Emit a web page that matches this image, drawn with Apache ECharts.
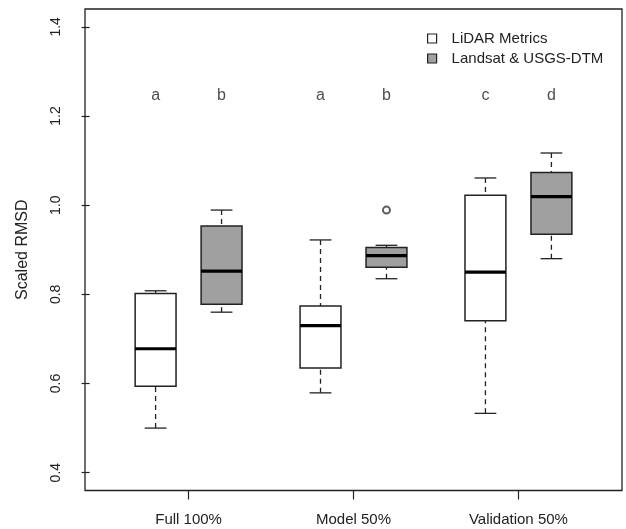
<!DOCTYPE html>
<html>
<head>
<meta charset="utf-8">
<script src="https://cdn.jsdelivr.net/npm/echarts@6/dist/echarts.min.js"></script>
<style>html,body{margin:0;padding:0;background:#fff;}#chart{width:626px;height:529px;}</style>
</head>
<body>
<div id="chart"></div>
<script>
// ---- data ----
const categories = ['Full 100%', 'Model 50%', 'Validation 50%'];
const groupCenters = [1.5, 4, 6.5];
const lidarPositions = [1, 3.5, 6];
const landsatPositions = [2, 4.5, 7];
// [lower whisker, Q1, median, Q3, upper whisker]
const lidarStats = [
  [0.500, 0.594, 0.678, 0.802, 0.808],
  [0.579, 0.635, 0.730, 0.774, 0.922],
  [0.533, 0.741, 0.850, 1.022, 1.061]
];
const landsatStats = [
  [0.760, 0.778, 0.852, 0.953, 0.989],
  [0.835, 0.861, 0.887, 0.905, 0.910],
  [0.880, 0.935, 1.019, 1.073, 1.117]
];
const landsatOutliers = [[1, 0.989]]; // [group index, value]
const lidarLetters = ['a', 'a', 'c'];
const landsatLetters = ['b', 'b', 'd'];
const letterLevel = 1.25;
const yTicks = [0.4, 0.6, 0.8, 1.0, 1.2, 1.4];
const seriesNames = ['LiDAR Metrics', 'Landsat & USGS-DTM'];

// ---- chart ----
const chart = echarts.init(document.getElementById('chart'));
const FONT = 'Liberation Sans, Arial, sans-serif';
const boxHalf = 0.31, capHalf = 0.165;

function renderBox(fill) {
  return function (params, api) {
    const x = api.value(0), lo = api.value(1), q1 = api.value(2), md = api.value(3), q3 = api.value(4), hi = api.value(5);
    const tl = api.coord([x - boxHalf, q3]);
    const br = api.coord([x + boxHalf, q1]);
    const mL = api.coord([x - boxHalf, md]);
    const mR = api.coord([x + boxHalf, md]);
    const cHi = api.coord([x, hi]), cLo = api.coord([x, lo]);
    const cQ3 = api.coord([x, q3]), cQ1 = api.coord([x, q1]);
    const capL = api.coord([x - capHalf, hi])[0], capR = api.coord([x + capHalf, hi])[0];
    const dash = { stroke: '#222', lineWidth: 1.3, lineDash: [5, 4] };
    const solid = { stroke: '#222', lineWidth: 1.3 };
    return {
      type: 'group',
      children: [
        { type: 'line', shape: { x1: cHi[0], y1: cHi[1], x2: cQ3[0], y2: cQ3[1] }, style: dash },
        { type: 'line', shape: { x1: cLo[0], y1: cLo[1], x2: cQ1[0], y2: cQ1[1] }, style: dash },
        { type: 'line', shape: { x1: capL, y1: cHi[1], x2: capR, y2: cHi[1] }, style: solid },
        { type: 'line', shape: { x1: capL, y1: cLo[1], x2: capR, y2: cLo[1] }, style: solid },
        { type: 'rect', shape: { x: tl[0], y: tl[1], width: br[0] - tl[0], height: br[1] - tl[1] },
          style: { fill: fill, stroke: '#222', lineWidth: 1.5 } },
        { type: 'line', shape: { x1: mL[0], y1: mL[1], x2: mR[0], y2: mR[1] }, style: { stroke: '#000', lineWidth: 3.2 } }
      ]
    };
  };
}

const lidarData = lidarStats.map((s, i) => [lidarPositions[i]].concat(s));
const landsatData = landsatStats.map((s, i) => [landsatPositions[i]].concat(s));
const letterData = [];
lidarLetters.forEach((l, i) => letterData.push({ value: [lidarPositions[i], letterLevel], letter: l }));
landsatLetters.forEach((l, i) => letterData.push({ value: [landsatPositions[i], letterLevel], letter: l }));

const option = {
  backgroundColor: '#fff',
  animation: false,
  textStyle: { fontFamily: FONT },
  grid: { left: 85, right: 4, top: 9, bottom: 38.5, show: true, borderColor: '#222', borderWidth: 1.3, backgroundColor: 'transparent' },
  legend: {
    orient: 'vertical', left: 427, top: 31, padding: 0, itemWidth: 9, itemHeight: 9, itemGap: 5,
    textStyle: { fontFamily: FONT, fontSize: 15, color: '#222', padding: [0, 0, 0, 10] },
    data: [
      { name: seriesNames[0], icon: 'rect', itemStyle: { color: '#fff', borderColor: '#222', borderWidth: 1.2 } },
      { name: seriesNames[1], icon: 'rect', itemStyle: { color: '#a0a0a0', borderColor: '#222', borderWidth: 1.2 } }
    ]
  },
  xAxis: {
    type: 'value', min: -0.07, max: 8.07,
    axisLine: { show: false }, splitLine: { show: false },
    axisTick: { show: true, customValues: groupCenters, length: 9, lineStyle: { color: '#222', width: 1.2 } },
    axisLabel: { customValues: groupCenters, margin: 22, fontSize: 15, color: '#222', fontFamily: FONT,
      formatter: v => categories[groupCenters.indexOf(v)] }
  },
  yAxis: {
    type: 'value', min: 0.36, max: 1.44,
    name: 'Scaled RMSD', nameLocation: 'middle', nameGap: 54, nameRotate: 90,
    nameTextStyle: { fontSize: 16, color: '#222', fontFamily: FONT },
    axisLine: { show: false }, splitLine: { show: false },
    axisTick: { show: true, customValues: yTicks, length: 8, lineStyle: { color: '#222', width: 1.2 } },
    axisLabel: { customValues: yTicks, rotate: 90, margin: 22, fontSize: 14, color: '#222', fontFamily: FONT,
      formatter: v => v.toFixed(1) }
  },
  series: [
    { name: seriesNames[0], type: 'custom', renderItem: renderBox('#fff'), data: lidarData,
      itemStyle: { color: '#fff', borderColor: '#222' }, encode: { x: 0, y: [1, 2, 3, 4, 5] } },
    { name: seriesNames[1], type: 'custom', renderItem: renderBox('#a0a0a0'), data: landsatData,
      itemStyle: { color: '#a0a0a0', borderColor: '#222' }, encode: { x: 0, y: [1, 2, 3, 4, 5] } },
    { name: 'outliers', type: 'scatter', symbol: 'emptyCircle', symbolSize: 7, z: 5,
      itemStyle: { color: '#333', borderColor: '#333', borderWidth: 1 },
      data: landsatOutliers.map(o => [landsatPositions[o[0]], o[1]]) },
    { name: 'letters', type: 'scatter', symbolSize: 0, data: letterData,
      label: { show: true, position: 'inside', offset: [0, 2], fontSize: 16, color: '#222', fontFamily: FONT,
        formatter: p => p.data.letter } }
  ]
};
chart.setOption(option);
</script>
</body>
</html>
